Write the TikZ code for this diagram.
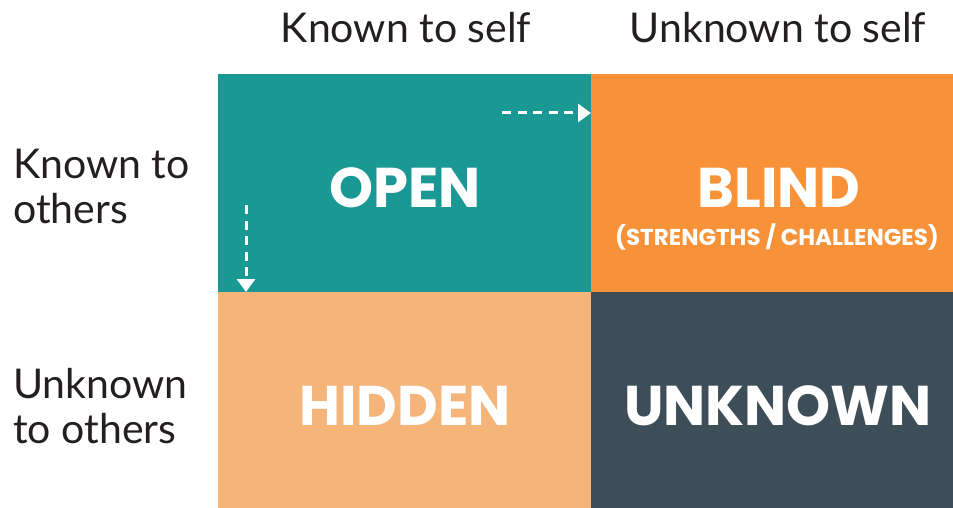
\documentclass[tikz,border=0pt]{standalone}
\usepackage{fontspec}
\setmainfont{Lato}
\newfontfamily\boldfam{Poppins}[UprightFont=* Bold]
\usetikzlibrary{arrows.meta}
\definecolor{teal}{HTML}{1A9893}
\definecolor{orangeq}{HTML}{F79239}
\definecolor{peach}{HTML}{F5B478}
\definecolor{slate}{HTML}{3D4E59}
\definecolor{ink}{HTML}{231F20}
\begin{document}
\begin{tikzpicture}[x=1pt,y=-1pt,
  big/.style={text=white,font=\boldfam\fontsize{56}{60}\selectfont,inner sep=0pt},
  head/.style={text=ink,font=\fontsize{41}{46}\selectfont,inner sep=0pt},
  side/.style={text=ink,font=\fontsize{41}{45}\selectfont,inner sep=0pt,align=left,anchor=west},
  flow/.style={white,line width=3pt,dash pattern=on 9pt off 6.5pt,-{Triangle[length=13pt,width=18pt]}}]
\useasboundingbox (0,0) rectangle (953,508);
\fill[teal] (218,74) rectangle (591,292);
\fill[orangeq] (591,74) rectangle (953,292);
\fill[peach] (218,292) rectangle (591,508);
\fill[slate] (591,292) rectangle (953,508);
\node[head] (hk) at (406,28) {Known to self};
\node[head] (hu) at (778,28) {Unknown to self};
\node[side] (sk) at (13,186) {Known to\\others};
\node[side] (su) at (13,406) {Unknown\\to others};
\node[big] (open) at (405,188) {OPEN};
\node[big] (blind) at (779,188) {BLIND};
\node[text=white,font=\boldfam\fontsize{23}{26}\selectfont,inner sep=0pt] (sub) at (777,237) {(STRENGTHS / CHALLENGES)};
\node[big] (hidden) at (405,406) {HIDDEN};
\node[big] (unknown) at (778,406) {UNKNOWN};
\coordinate (a1) at (502,113);
\coordinate (a2) at (591,113);
\coordinate (b1) at (246,205);
\coordinate (b2) at (246,292);
\draw[flow] (a1) -- (a2);
\draw[flow] (b1) -- (b2);
\end{tikzpicture}
\end{document}
